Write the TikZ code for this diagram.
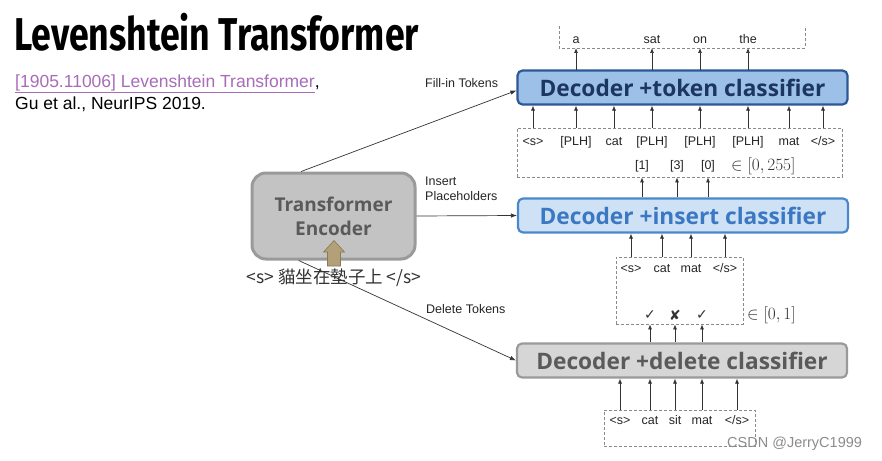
\documentclass[tikz,border=0pt]{standalone}
\usepackage{fontspec}
\usepackage{graphicx}
\setmainfont{Liberation Sans}
\newfontfamily\titlefont[FakeStretch=0.775]{Fira Sans}
\newfontfamily\boxfont{Open Sans}
\newfontfamily\cjk{Noto Sans CJK TC}
\newfontfamily\symfont{DejaVu Sans}
\usetikzlibrary{arrows.meta,calc}
\definecolor{linkpurple}{HTML}{A86CB8}
\definecolor{tokfill}{HTML}{9DC0E8}
\definecolor{tokdraw}{HTML}{2C5896}
\definecolor{toktext}{HTML}{1C365F}
\definecolor{insfill}{HTML}{CFE2F5}
\definecolor{insdraw}{HTML}{4A88CC}
\definecolor{instext}{HTML}{3B78C4}
\definecolor{delfill}{HTML}{D6D6D6}
\definecolor{deldraw}{HTML}{9A9A9A}
\definecolor{deltext}{HTML}{5A5A5A}
\definecolor{encfill}{HTML}{C3C3C3}
\definecolor{tanfill}{HTML}{B3A078}
\definecolor{tandraw}{HTML}{8A7950}
\definecolor{dashgray}{HTML}{8A8A8A}
\begin{document}
\begin{tikzpicture}[x=1pt,y=-1pt,
  dec/.style={rounded corners=5pt, line width=2.2pt, minimum width=330, minimum height=34, inner sep=0pt,
    font=\boxfont\bfseries\fontsize{22.7}{26}\selectfont},
  dbox/.style={draw=dashgray, dashed, dash pattern=on 3pt off 2pt, line width=0.8pt, inner sep=0pt},
  tok/.style={font=\fontsize{12.5}{14}\selectfont, inner sep=0pt, text=black!85},
  lab/.style={font=\fontsize{12.5}{15}\selectfont, inner sep=0pt, text=black!85, align=left, anchor=west},
  arr/.style={-{Latex[length=5pt,width=4pt]}, line width=0.7pt, draw=black!80},
  conn/.style={-{Latex[length=6pt,width=4.5pt]}, line width=0.7pt, draw=black!80},
  mth/.style={font=\fontsize{18}{20}\selectfont, inner sep=0pt, text=black!80}
]
\useasboundingbox (0,0) rectangle (882,460);
\fill[white] (0,0) rectangle (882,460);

% title and reference
\node[anchor=base west, inner sep=0pt, font=\titlefont\bfseries\fontsize{46}{50}\selectfont] (title) at (14,50) {Levenshtein Transformer};
\node[anchor=base west, inner sep=0pt, font=\fontsize{17.5}{20}\selectfont] (ref1) at (15,87) {\textcolor{linkpurple}{\underline{[1905.11006] Levenshtein Transformer}},};
\node[anchor=base west, inner sep=0pt, font=\fontsize{17.5}{20}\selectfont] (ref2) at (15,109) {Gu et al., NeurIPS 2019.};

% encoder
\node[draw=deldraw, fill=encfill, line width=3pt, rounded corners=14pt, minimum width=163, minimum height=86,
  align=center, text=deltext, font=\boxfont\bfseries\fontsize{19}{24}\selectfont] (enc) at (333.5,216) {Transformer\\Encoder};
\fill[tanfill, draw=tandraw, line width=0.6pt] (327.5,266) -- (327.5,252) -- (323.5,252) -- (334,240.5) -- (344.5,252) -- (340.5,252) -- (340.5,266) -- cycle;
\node[inner sep=0pt, font=\cjk\fontsize{17.5}{19}\selectfont, text=black!80] (src) at (334,278) {<s> 貓坐在墊子上 </s>};

% decoders
\node[dec, draw=tokdraw, fill=tokfill, text=toktext] (tokdec) at (682.5,87.5) {Decoder +token classifier};
\node[dec, draw=insdraw, fill=insfill, text=instext] (insdec) at (683,215.5) {Decoder +insert classifier};
\node[dec, draw=deldraw, fill=delfill, text=deltext] (deldec) at (682,360.5) {Decoder +delete classifier};

% connectors from encoder
\draw[conn] (enc.126) -- ($(tokdec.west)+(0,3)$);
\draw[conn] (enc.east) -- (insdec.west);
\draw[conn] (enc.232) -- (deldec.west);
\node[lab] (lfill) at (425,83) {Fill-in Tokens};
\node[lab] (lins) at (425,188.5) {Insert\\Placeholders};
\node[lab] (ldel) at (426,309) {Delete Tokens};

% top output box (open top)
\coordinate (tbl) at (559,26);
\coordinate (tbr) at (805,26);
\draw[draw=dashgray, dashed, dash pattern=on 3pt off 2pt, line width=0.8pt] (tbl) -- (559,48) -- (805,48) -- (tbr);
\foreach \x/\w [count=\i] in {576/a, 652/sat, 700/on, 748/the} {
  \node[tok, anchor=base] (o\i) at (\x,44) {\w};
  \draw[arr] (\x,70) -- (o\i.south |- 0,48);
}

% middle box
\node[dbox, minimum width=325, minimum height=49] (midbox) at (679.5,152.5) {};
\foreach \x/\w [count=\i] in {533/{<s>}, 576/{[PLH]}, 614/cat, 652/{[PLH]}, 700/{[PLH]}, 748/{[PLH]}, 789/mat, 823/{</s>}} {
  \node[tok, anchor=base] (m\i) at (\x,145) {\w};
  \draw[arr] (m\i.south |- midbox.north) -- (m\i.south |- tokdec.south);
}
\foreach \x/\w [count=\i] in {642/{[1]}, 677/{[3]}, 708/{[0]}} {
  \node[tok, anchor=base] (n\i) at (\x,169) {\w};
  \draw[arr] (n\i.south |- insdec.north) -- (n\i.south |- midbox.south);
}
\node[mth, anchor=base west] (r255) at (731,170) {$\in[0,255]$};

% insert input box
\node[dbox, minimum width=127, minimum height=67] (insbox) at (679.5,290.5) {};
\foreach \x/\w [count=\i] in {631/{<s>}, 662/cat, 691/mat, 725/{</s>}} {
  \node[tok, anchor=base] (s\i) at (\x,272) {\w};
  \draw[arr] (s\i.south |- insbox.north) -- (s\i.south |- insdec.south);
}
\foreach \x/\w [count=\i] in {650/✓, 675/✘, 702/✓} {
  \node[inner sep=0pt, font=\symfont\fontsize{14}{16}\selectfont, text=black!80] (c\i) at (\x,315) {\w};
  \draw[arr] (c\i.south |- deldec.north) -- (c\i.south |- insbox.south);
}
\node[mth, anchor=base west] (r01) at (747,319) {$\in[0,1]$};

% delete input box
\node[dbox, minimum width=151, minimum height=36] (delbox) at (679.5,428) {};
\foreach \x/\w [count=\i] in {620/{<s>}, 650/cat, 675/sit, 702/mat, 737/{</s>}} {
  \node[tok, anchor=base] (d\i) at (\x,424.5) {\w};
  \draw[arr] (d\i.south |- delbox.north) -- (d\i.south |- deldec.south);
}

% watermark
\node[anchor=base west, inner sep=0pt, font=\fontsize{14.5}{16}\selectfont, text=black!45] (wm) at (727,447) {CSDN @JerryC1999};
\end{tikzpicture}
\end{document}
